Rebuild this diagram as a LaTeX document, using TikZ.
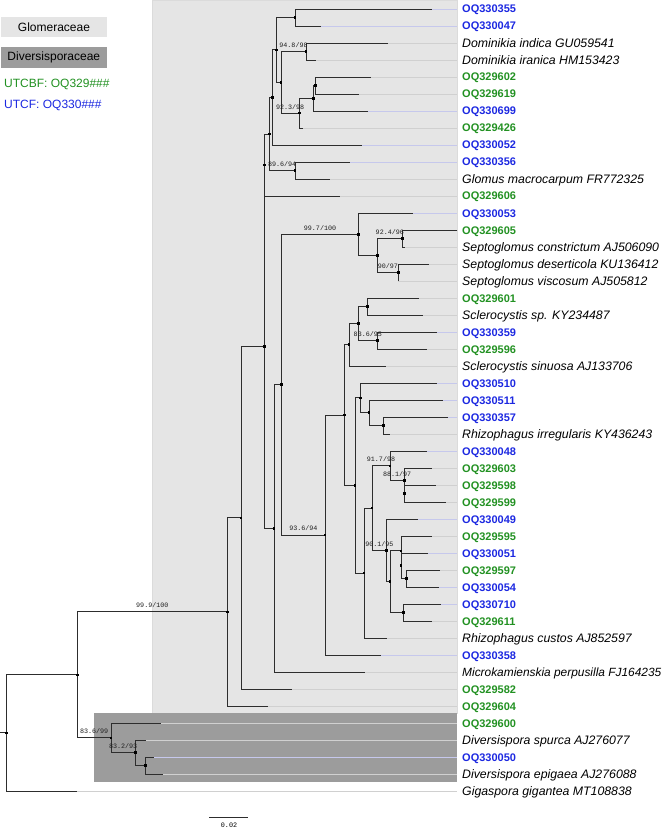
\documentclass[tikz,border=0pt]{standalone}
\usepackage{fontspec}
\setmainfont{Liberation Sans}
\newfontfamily\bsfont{Liberation Mono}
\definecolor{lgreen}{RGB}{34,145,34}
\definecolor{lblue}{RGB}{28,40,225}
\definecolor{boxlight}{RGB}{229,229,229}
\definecolor{boxdark}{RGB}{156,156,156}
\definecolor{guideb}{RGB}{198,200,236}
\definecolor{guideg}{RGB}{208,208,208}
\definecolor{branchc}{RGB}{45,45,45}
\tikzset{
  br/.style={draw=branchc, line width=0.9pt},
  guidebl/.style={draw=guideb, line width=0.8pt},
  guidegr/.style={draw=guideg, line width=0.8pt},
  guidesp/.style={draw=guideg, line width=0.8pt},
  labbl/.style={anchor=base west, inner sep=0pt, yshift=-4pt, text=lblue, font=\fontsize{11}{13}\selectfont\bfseries},
  labgr/.style={anchor=base west, inner sep=0pt, yshift=-4pt, text=lgreen, font=\fontsize{11}{13}\selectfont\bfseries},
  labsp/.style={anchor=base west, inner sep=0pt, yshift=-4.4pt, text=black, font=\fontsize{12.3}{15}\selectfont\itshape},
  dotn/.style={rectangle, fill=black, inner sep=0pt, minimum size=2.6pt},
  bs/.style={font=\bsfont\fontsize{6.7}{7}\selectfont, text=black!88, inner sep=0pt, text height=4.6pt, text depth=0pt, above=3.6pt, pos=0.75},
  legbox/.style={inner sep=0pt, minimum width=106pt, minimum height=20.6pt, font=\fontsize{12}{14}\selectfont},
  legtxt/.style={anchor=west, inner sep=0pt, font=\fontsize{12}{14}\selectfont},
}
\newcommand\leaf[5]{%
  \coordinate (t#1) at (#3,#2);
  \coordinate (g#1) at (457,#2);
  \draw[guide#4] (t#1) -- (g#1);
  \node[lab#4] (l#1) at (462,#2) {#5};}
\newcommand\inode[3]{\coordinate (#1) at (#2,#3);}
\begin{document}
\begin{tikzpicture}[x=1pt,y=-1pt]
\useasboundingbox (0,0) rectangle (663,829);
% family boxes
\fill[boxlight] (152,0.5) rectangle (457,713);
\draw[black!14, line width=0.5pt] (152,0.5) rectangle (457,713);
\fill[boxdark] (94,713) rectangle (457,782.3);
% legend
\node[legbox, fill=boxlight] (legG) at (54,27) {Glomeraceae};
\node[legbox, fill=boxdark] (legD) at (53.8,57.8) {Diversisporaceae};
\node[legtxt, text=lgreen] (legU1) at (4,84.3) {UTCBF: OQ329\#\#\#};
\node[legtxt, text=lblue] (legU2) at (4,105.3) {UTCF: OQ330\#\#\#};
% leaves
\leaf{1}{9}{431.7}{bl}{OQ330355}
\leaf{2}{26}{321}{bl}{OQ330047}
\leaf{3}{43}{387.7}{sp}{Dominikia indica GU059541}
\leaf{4}{60}{315.7}{sp}{Dominikia iranica HM153423}
\leaf{5}{77}{370.7}{gr}{OQ329602}
\leaf{6}{94}{359.3}{gr}{OQ329619}
\leaf{7}{111}{367.7}{bl}{OQ330699}
\leaf{8}{128}{303.3}{gr}{OQ329426}
\leaf{9}{145}{362}{bl}{OQ330052}
\leaf{10}{162}{350}{bl}{OQ330356}
\leaf{11}{179}{330}{sp}{Glomus macrocarpum FR772325}
\leaf{12}{196}{340}{gr}{OQ329606}
\leaf{13}{213}{413}{bl}{OQ330053}
\leaf{14}{230}{456.7}{gr}{OQ329605}
\leaf{15}{247}{405}{sp}{Septoglomus constrictum AJ506090}
\leaf{16}{264}{429.3}{sp}{Septoglomus deserticola KU136412}
\leaf{17}{281}{398.3}{sp}{Septoglomus viscosum AJ505812}
\leaf{18}{298}{419.3}{gr}{OQ329601}
\leaf{19}{315}{423.3}{sp}{Sclerocystis sp. KY234487}
\leaf{20}{332}{436.7}{bl}{OQ330359}
\leaf{21}{349}{426.7}{gr}{OQ329596}
\leaf{22}{366}{386}{sp}{Sclerocystis sinuosa AJ133706}
\leaf{23}{383}{437.3}{bl}{OQ330510}
\leaf{24}{400}{442.7}{bl}{OQ330511}
\leaf{25}{417}{447.7}{bl}{OQ330357}
\leaf{26}{434}{390}{sp}{Rhizophagus irregularis KY436243}
\leaf{27}{451}{427.3}{bl}{OQ330048}
\leaf{28}{468}{432.3}{gr}{OQ329603}
\leaf{29}{485}{436}{gr}{OQ329598}
\leaf{30}{502}{445.7}{gr}{OQ329599}
\leaf{31}{519}{418.3}{bl}{OQ330049}
\leaf{32}{536}{431.7}{gr}{OQ329595}
\leaf{33}{553}{428.3}{bl}{OQ330051}
\leaf{34}{570}{440}{gr}{OQ329597}
\leaf{35}{587}{439.3}{bl}{OQ330054}
\leaf{36}{604}{440.7}{bl}{OQ330710}
\leaf{37}{621}{431.7}{gr}{OQ329611}
\leaf{38}{638}{386.7}{sp}{Rhizophagus custos AJ852597}
\leaf{39}{655}{381}{bl}{OQ330358}
\leaf{40}{672}{365}{sp}{\fontsize{11.9}{14}\selectfont Microkamienskia perpusilla FJ164235}
\leaf{41}{689}{291.7}{gr}{OQ329582}
\leaf{42}{706}{268.3}{gr}{OQ329604}
\leaf{43}{723}{161}{gr}{OQ329600}
\leaf{44}{740}{145.7}{sp}{Diversispora spurca AJ276077}
\leaf{45}{757}{154}{bl}{OQ330050}
\leaf{46}{774}{162.7}{sp}{Diversispora epigaea AJ276088}
\leaf{47}{791}{77.3}{sp}{Gigaspora gigantea MT108838}
% internal nodes
\inode{A}{295}{17.5}
\inode{B}{306}{51.5}
\inode{N4}{315.7}{85.5}
\inode{N3}{313.3}{98.25}
\inode{C}{299.3}{113.1}
\inode{N2}{281}{82.3}
\inode{N1}{276.7}{49.9}
\inode{N0}{272.3}{97.45}
\inode{D}{295}{170.5}
\inode{N}{269.3}{134}
\inode{G1}{264.3}{165}
\inode{S1}{402.3}{238.5}
\inode{S2}{398.3}{272.5}
\inode{SepB}{377.3}{255.5}
\inode{Sep}{358.3}{234.25}
\inode{Sc1}{367.7}{306.5}
\inode{Sc2}{377.3}{340.5}
\inode{ScA}{358.3}{323.5}
\inode{Sc0}{349}{344.75}
\inode{R3}{383.7}{425.5}
\inode{R2}{369}{412.75}
\inode{R1}{360.7}{397.9}
\inode{Q3}{404.3}{493.5}
\inode{Q2}{404.3}{480.75}
\inode{Q1}{390}{465.9}
\inode{P4}{406.7}{578.5}
\inode{P3}{401}{565.75}
\inode{P2}{401}{550.9}
\inode{P5}{403.3}{612.5}
\inode{P1}{390}{581.7}
\inode{P0}{386.7}{550.35}
\inode{M2}{372}{508.1}
\inode{M1}{364}{573}
\inode{MR}{355}{485.5}
\inode{RS}{344.3}{415.1}
\inode{T}{325}{535}
\inode{U2}{281.7}{384.6}
\inode{U}{274}{528.3}
\inode{G0}{264.3}{346.65}
\inode{V}{241}{517.8}
\inode{W}{227.3}{611.9}
\inode{Z}{145.3}{765.5}
\inode{Y}{135.3}{752.75}
\inode{X}{111}{737.9}
\inode{K}{77.3}{674.9}
\inode{root}{6.7}{732.9}
\coordinate (rstub) at (0,732.9);
% branches
\foreach \p/\c in {A/t1,A/t2,B/t3,B/t4,N4/t5,N4/t6,N3/N4,N3/t7,C/N3,C/t8,
  N1/A,N1/N2,N0/N1,N0/t9,D/t10,D/t11,N/N0,G1/N,G1/t12,
  S1/t14,S1/t15,S2/t16,S2/t17,Sep/t13,Sep/SepB,
  Sc1/t18,Sc1/t19,Sc2/t20,Sc2/t21,ScA/Sc1,Sc0/ScA,Sc0/t22,
  R3/t25,R3/t26,R2/t24,R2/R3,R1/t23,R1/R2,
  Q3/t29,Q3/t30,Q2/t28,Q2/Q3,Q1/t27,
  P4/t34,P4/t35,P3/t33,P3/P4,P2/t32,P2/P3,P5/t36,P5/t37,P1/P2,P1/P5,P0/t31,P0/P1,
  M1/M2,M1/t38,MR/R1,MR/M1,RS/Sc0,RS/MR,T/RS,T/t39,
  U/U2,U/t40,G0/G1,G0/U,V/G0,V/t41,W/V,W/t42,
  Z/t45,Z/t46,Y/t44,Y/Z,X/t43,root/K,root/t47}
  {\draw[br] (\p) |- (\c);}
\draw[br] (N2) |- node[bs] {94.8/98} (B);
\draw[br] (N2) |- node[bs] {92.3/98} (C);
\draw[br] (N) |- node[bs] {89.6/94} (D);
\draw[br] (U2) |- node[bs] {99.7/100} (Sep);
\draw[br] (SepB) |- node[bs] {92.4/96} (S1);
\draw[br] (SepB) |- node[bs] {90/97} (S2);
\draw[br] (ScA) |- node[bs] {83.6/95} (Sc2);
\draw[br] (M2) |- node[bs] {91.7/98} (Q1);
\draw[br] (Q1) |- node[bs] {88.1/97} (Q2);
\draw[br] (M2) |- node[bs] {90.1/95} (P0);
\draw[br] (U2) |- node[bs] {93.6/94} (T);
\draw[br] (K) |- node[bs] {99.9/100} (W);
\draw[br] (K) |- node[bs] {83.6/99} (X);
\draw[br] (X) |- node[bs] {83.2/93} (Y);
\draw[br] (rstub) -- (root);
% node dots
\foreach \n in {A,B,N4,N3,C,N2,N1,N0,D,N,G1,S1,S2,SepB,Sep,Sc1,Sc2,ScA,Sc0,
  R3,R2,R1,Q3,Q2,Q1,P4,P3,P2,P5,P1,P0,M2,M1,MR,RS,T,U2,U,G0,V,W,Z,Y,X,K,root}
  {\node[dotn] (d\n) at (\n) {};}
% scale bar
\coordinate (sb1) at (209,817.3);
\coordinate (sb2) at (248.3,817.3);
\draw[br, line width=0.8pt] (sb1) -- (sb2);
\node[font=\bsfont\fontsize{6.8}{8}\selectfont, inner sep=0pt] (sbl) at (229,825.7) {0.02};
\end{tikzpicture}
\end{document}
